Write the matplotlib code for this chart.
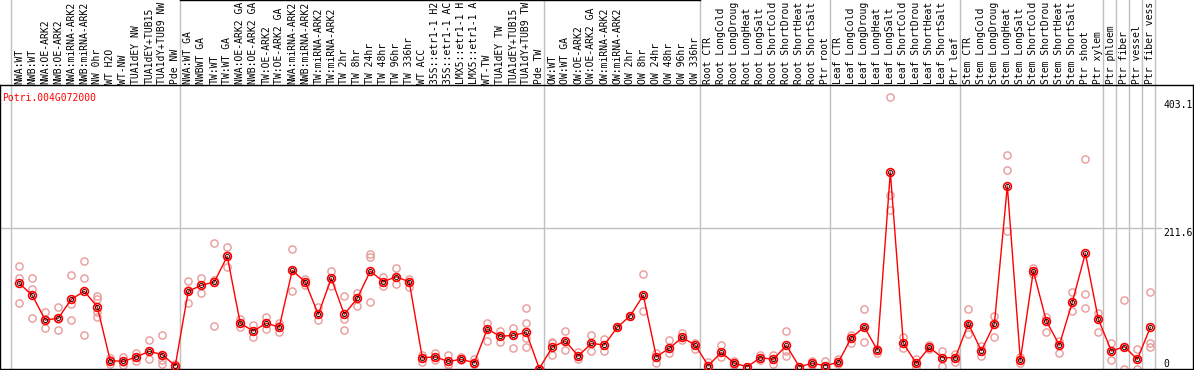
import matplotlib
matplotlib.use("Agg")
from matplotlib import pyplot as plt
from matplotlib import transforms

# sample names (as shown, truncated at the top)
samples = [
    "NWA:WT", "NWB:WT", "NWA:OE-ARK2", "NWB:OE-ARK2", "NWA:miRNA-ARK2", "NWB:miRNA-ARK2",
    "NW 0hr", "WT H2O", "WT-NW", "TUA1dEY NW", "TUA1dEY+TUB15", "TUA1dY+TUB9 NW", "Pde NW",
    "NWA:WT GA", "NWBWT GA", "TW:WT", "TW:WT GA", "NWA:OE-ARK2 GA", "NWB:OE-ARK2 GA",
    "TW:OE-ARK2", "TW:OE-ARK2 GA", "NWA:miRNA-ARK2", "NWB:miRNA-ARK2", "TW:miRNA-ARK2",
    "TW:miRNA-ARK2", "TW 2hr", "TW 8hr", "TW 24hr", "TW 48hr", "TW 96hr", "TW 336hr",
    "WT ACC", "35S::etr1-1 H2", "35S::etr1-1 AC", "LMX5::etr1-1 H", "LMX5::etr1-1 A",
    "WT-TW", "TUA1dEY TW", "TUA1dEY+TUB15", "TUA1dY+TUB9 TW", "Pde TW",
    "OW:WT", "OW:WT GA", "OW:OE-ARK2", "OW:OE-ARK2 GA", "OW:miRNA-ARK2", "OW:miRNA-ARK2",
    "OW 2hr", "OW 8hr", "OW 24hr", "OW 48hr", "OW 96hr", "OW 336hr",
    "Root CTR", "Root LongCold", "Root LongDroug", "Root LongHeat", "Root LongSalt",
    "Root ShortCold", "Root ShortDrou", "Root ShortHeat", "Root ShortSalt", "Ptr root",
    "Leaf CTR", "Leaf LongCold", "Leaf LongDroug", "Leaf LongHeat", "Leaf LongSalt",
    "Leaf ShortCold", "Leaf ShortDrou", "Leaf ShortHeat", "Leaf ShortSalt", "Ptr leaf",
    "Stem CTR", "Stem LongCold", "Stem LongDroug", "Stem LongHeat", "Stem LongSalt",
    "Stem ShortCold", "Stem ShortDrou", "Stem ShortHeat", "Stem ShortSalt", "Ptr shoot",
    "Ptr xylem", "Ptr phloem", "Ptr fiber", "Ptr vessel", "Ptr fiber vess",
]

# mean expression per sample
means = [
    128.6, 110.6, 73.5, 76.1, 104.6, 116.6, 93.5, 12.5, 11.5, 18, 26.6, 21.5, 5,
    116.6, 125.6, 130.6, 169, 68.6, 57, 68.6, 63, 148, 130.6, 82, 136.1, 82, 106,
    147, 131, 138.5, 130.6, 17, 18, 11.5, 14.5, 9.5, 60, 49, 50.5, 55, 0.5,
    33, 42, 19.5, 38.5, 36, 62.6, 80, 110.6, 18.5, 31, 47.5, 35.5,
    5, 25, 8.5, 3.5, 17, 14.5, 35.5, 3.5, 8.5, 5,
    10, 47, 63, 28.5, 295.6, 38.5, 8.5, 32.5, 17, 17,
    68, 27.5, 67.5, 274.6, 13.5, 147, 72, 36, 100.5, 173.6,
    74.6, 27, 33.5, 14.5, 62.6,
]

# replicate values per sample
reps = [
    [154.6, 136.6, 98.6], [136.6, 120.5, 76.5], [85.5, 74.6, 61], [92.6, 75, 58],
    [140.6, 97.5, 73.5], [161.6, 136.1, 50.6], [110, 105, 86, 78.5], [16, 7.5, 14],
    [18.5, 5.5, 10.5], [24.5, 17.5, 11.5], [43.5, 27, 14.5], [50.5, 21, 13.5, 7.5],
    [7.5, 3.5, 4],
    [132.5, 99.5, 118], [136.6, 114.5, 125.6], [188.6, 133.6, 64], [182.6, 153.5, 171],
    [74.6, 62.6, 68.6], [66, 47.5, 57.5], [77.6, 59.6, 68.6], [69.5, 55, 64.5],
    [179.6, 116.6, 148], [135.5, 125.6, 130.6], [92.6, 73.5, 82], [147, 125, 136.1],
    [109, 74.6, 58], [113.6, 94.5, 106], [172, 168.5, 100], [138.5, 125, 131],
    [151, 127, 138.5], [135.5, 123.5, 130.6], [21, 10, 17], [23.5, 13.5, 18],
    [21.5, 5.5, 7.5], [18, 13, 14.5], [14.5, 7.5, 9.5], [69.5, 41.5, 60],
    [57.5, 41, 49], [61, 31.5, 50.5], [92, 68.6, 46, 33], [0.5, 0.5, 0.5],
    [38.5, 21, 40], [57, 28.5, 42], [26, 14.5, 19.5], [50.5, 27, 38.5],
    [45, 27.5, 36], [62.6, 62.6, 62.6], [80, 80, 80], [142.5, 86.6, 110.6],
    [23.5, 8.5, 18.5], [43.5, 24.5, 31], [54.5, 43.5, 47.5], [39.5, 30.5, 35.5],
    [10, 2.5, 5], [35.5, 17.5, 25], [12.5, 5.5, 8.5], [3.5, 3.5, 3.5], [21, 13, 17],
    [20.5, 7.5, 14.5], [57, 27, 20], [3.5, 3.5, 3.5], [11.5, 5.5, 8.5], [11.5, 5, 5],
    [15.5, 7.5, 10], [50.5, 39.5, 47], [89.6, 40, 63], [30.5, 24.5, 28.5],
    [408, 261, 238], [48.5, 31, 38.5], [15.5, 2.5, 8.5], [36, 29.5, 32.5],
    [27, 4.5, 17], [22.5, 11, 17],
    [89.6, 52.5, 68], [35, 19.5, 27.5], [79.5, 47.5, 67.5], [320.7, 298, 207],
    [17.5, 9.5, 13.5], [151, 143, 147], [78.5, 56, 72], [42.5, 23.5, 36],
    [115, 87, 100.5], [314.7, 112, 92],
    [83.6, 56, 74.6], [38.5, 13.5, 27], [103.5, 0, 33.5], [29.5, 0, 14.5],
    [115, 39.5, 32.5],
]

# columns after which a grey separator is drawn
group_ends = [-1, 12, 40, 52, 62, 72, 83, 84, 85, 86, 87]
y_ticks = [403.1, 211.6, 0]

mono = "DejaVu Sans Mono"
fs = 7.0
fig = plt.figure(figsize=(11.94, 3.70), dpi=100)
ax = fig.add_axes([0, 1 / 370, 1193 / 1194, 284 / 370])
ax.set_xlim(-1.48, 90.28)
ax.set_ylim(0, 426.2)
ax.set_xticks([])
ax.set_yticks([])
for s in ax.spines.values():
    s.set_color("black")
    s.set_linewidth(1)

grey = "#c0c0c0"
for g in group_ends:
    ax.axvline(g + 0.36, ymin=0, ymax=369 / 284, color=grey, lw=1, clip_on=False, zorder=0)
ax.hlines(211.6, -1.48, 87.9, color=grey, lw=1, zorder=0)

# black rule along the top over the middle groups
trans = transforms.blended_transform_factory(ax.transData, ax.transAxes)
ax.plot([group_ends[1] + 0.36, group_ends[3] + 0.36], [368.5 / 284] * 2, color="black",
        lw=1, transform=trans, clip_on=False)

xs = list(range(len(samples)))
for i, r in enumerate(reps):
    ax.plot([i] * len(r), r, "o", ms=5.2, mfc="none", mec="#e89a9a", mew=1, zorder=2)
ax.plot(xs, means, "-", color="red", lw=1, zorder=3)
ax.plot(xs, means, "o", ms=5.6, mfc="none", mec="red", mew=1.2, zorder=4)
ax.plot(xs, means, "o", ms=3.0, mfc="none", mec="black", mew=0.6, zorder=5)

# sample labels above the plot
for i, name in enumerate(samples):
    ax.text(i, 1 + 1.5 / 284, name, rotation=90, ha="center", va="bottom",
            family=mono, fontsize=fs, transform=trans, clip_on=False)

# value labels on the right
for v in y_ticks:
    ax.text(88.0, v, "0" if v == 0 else str(v),
            ha="left", va="bottom" if v == 0 else "top", family=mono, fontsize=fs)

ax.text(0.002, 1 - 8 / 284, "Potri.004G072000", color="red", family=mono,
        fontsize=fs, ha="left", va="top", transform=ax.transAxes)

fig.savefig("out.png", dpi=100)
